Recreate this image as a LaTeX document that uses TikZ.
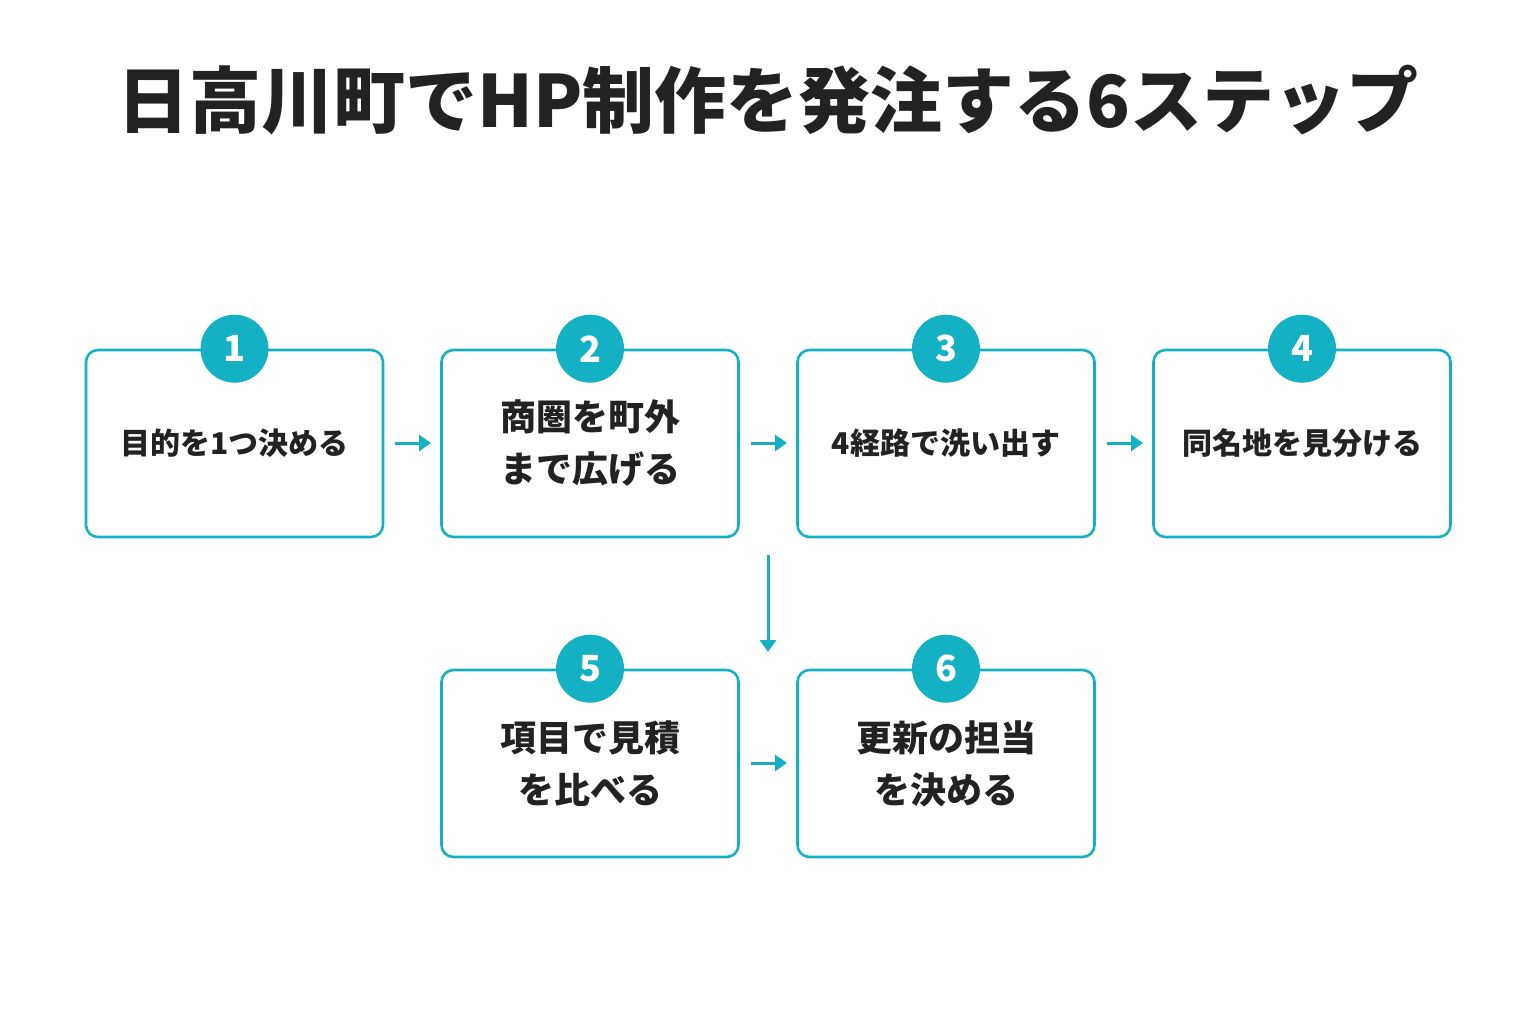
\documentclass[tikz,border=0pt]{standalone}
\usepackage{fontspec}
\setmainfont{Noto Sans CJK JP}
\usetikzlibrary{arrows.meta}
\definecolor{teal}{HTML}{14B1C4}
\definecolor{ink}{HTML}{222222}
\begin{document}
\begin{tikzpicture}[x=1pt,y=-1pt,
  box/.style={draw=teal,line width=2.6pt,rounded corners=12pt,minimum width=297pt,minimum height=187pt,inner sep=0pt},
  lbl/.style={text=ink,font=\bfseries\fontsize{30}{44}\selectfont,align=center},
  lbl2/.style={text=ink,font=\bfseries\fontsize{36}{52}\selectfont,align=center},
  num/.style={circle,fill=teal,minimum size=68pt,inner sep=0pt,text=white,font=\bfseries\fontsize{36}{36}\selectfont},
  arr/.style={draw=teal,line width=3pt,-{Triangle[length=12pt,width=16pt]}}]
\useasboundingbox (0,0) rectangle (1536,1024);
\node[text=ink,font=\bfseries\fontsize{72}{72}\selectfont] (title) at (768,100) {日高川町でHP制作を発注する6ステップ};
\node[box] (b1) at (234.5,443.5) {}; \node[lbl] (t1) at (b1) {目的を1つ決める};
\node[box] (b2) at (590,443.5) {}; \node[lbl2] (t2) at (b2) {商圏を町外\\まで広げる};
\node[box] (b3) at (946,443.5) {}; \node[lbl] (t3) at (b3) {4経路で洗い出す};
\node[box] (b4) at (1302,443.5) {}; \node[lbl] (t4) at (b4) {同名地を見分ける};
\node[box] (b5) at (590,763.5) {}; \node[lbl2] (t5) at (b5) {項目で見積\\を比べる};
\node[box] (b6) at (946,763.5) {}; \node[lbl2] (t6) at (b6) {更新の担当\\を決める};
\foreach \i in {1,...,6} \node[num] (n\i) at (b\i.north) {\i};
\coordinate (a1s) at (395,443); \coordinate (a1e) at (431,443);
\coordinate (a2s) at (751,443); \coordinate (a2e) at (787,443);
\coordinate (a3s) at (1107,443); \coordinate (a3e) at (1143,443);
\coordinate (ds) at (768,555); \coordinate (de) at (768,652);
\coordinate (a5s) at (751,763); \coordinate (a5e) at (787,763);
\draw[arr] (a1s) -- (a1e);
\draw[arr] (a2s) -- (a2e);
\draw[arr] (a3s) -- (a3e);
\draw[arr] (ds) -- (de);
\draw[arr] (a5s) -- (a5e);
\end{tikzpicture}
\end{document}
